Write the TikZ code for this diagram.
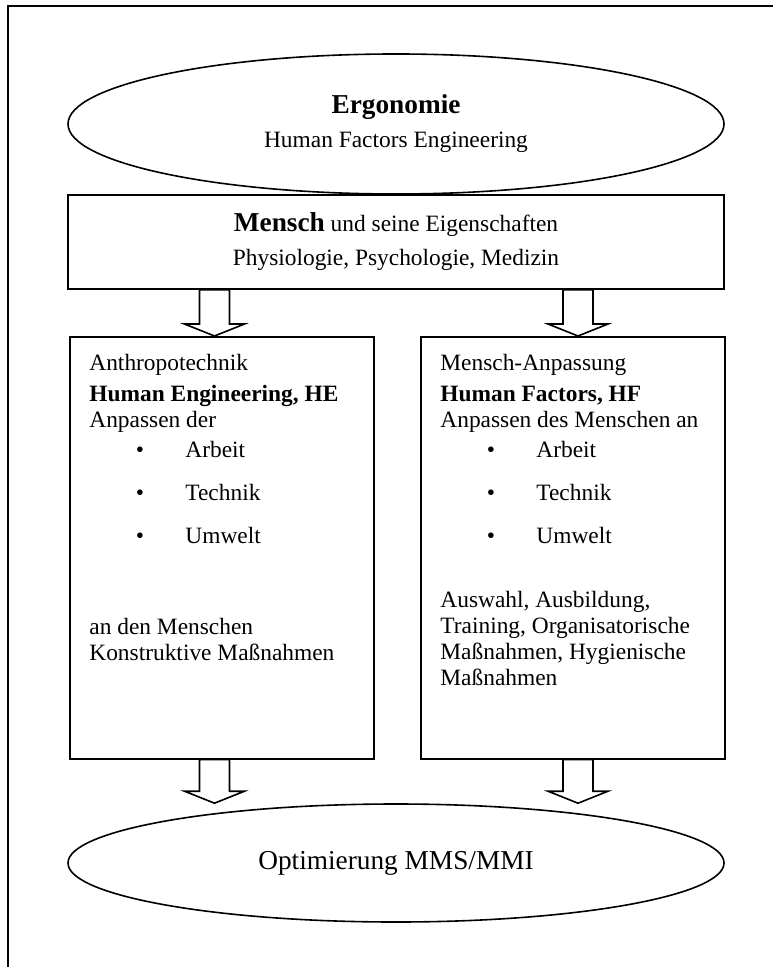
\documentclass[tikz,border=0pt]{standalone}
\usepackage{fontspec}
\setmainfont{Liberation Serif}
\usetikzlibrary{shapes.geometric,calc}

\newcommand\bodysize{\fontsize{11.7}{17}\selectfont}
\newcommand\bigsize{\fontsize{13.65}{17}\selectfont}

% hollow block arrow pointing down from #1 to #2
\newcommand\hollowarrow[2]{%
  \draw[blockarrow] let \p1=(#1), \p2=(#2) in
    (\x1-7.5pt,\y1) -- (\x1+7.5pt,\y1) -- (\x1+7.5pt,\y2+6pt) -- (\x1+15pt,\y2+6pt)
    -- (\x2,\y2) -- (\x1-15pt,\y2+6pt) -- (\x1-7.5pt,\y2+6pt) -- cycle;}

\begin{document}
\begin{tikzpicture}[x=0.5pt,y=-0.5pt,
  frame/.style={line width=0.8pt},
  outline/.style={draw, line width=0.8pt},
  oval/.style={outline, ellipse, inner sep=0pt, align=center},
  panel/.style={outline, rectangle, inner sep=0pt, anchor=north west,
                minimum width=152pt, minimum height=211pt},
  txt/.style={anchor=base west, inner sep=0pt, font=\bodysize},
  bul/.style={anchor=base, inner sep=0pt, font=\bodysize},
  blockarrow/.style={draw, line width=0.8pt, fill=white, line join=miter},
]
\useasboundingbox (0,0) rectangle (773,967);

% page frame
\draw[frame] (8,967) -- (8,6) -- (773,6);

% header box and title oval
\node[outline, minimum width=328pt, minimum height=47pt, align=center,
      font=\bodysize] (mensch) at (396,242)
  {{\bigsize\bfseries Mensch} und seine Eigenschaften\\Physiologie, Psychologie, Medizin};
\node[oval, minimum width=328pt, minimum height=70pt, font=\bodysize] (ergo) at (396,124)
  {{\bigsize\bfseries Ergonomie}\\Human Factors Engineering};

% the two panels
\node[panel] (he) at (69,336) {};
\node[panel] (hf) at (420,336) {};

% result oval
\node[oval, minimum width=328pt, minimum height=59pt, font=\bigsize] (opt) at (396,863)
  {Optimierung MMS/MMI};

% column positions of the arrows
\coordinate (colL) at (214.5,0);
\coordinate (colR) at (578,0);

\hollowarrow{mensch.south -| colL}{he.north -| colL}
\hollowarrow{mensch.south -| colR}{hf.north -| colR}
\hollowarrow{he.south -| colL}{opt.north -| colL}
\hollowarrow{hf.south -| colR}{opt.north -| colR}

% left panel text
\node[txt] (heA) at (89,371) {Anthropotechnik};
\node[txt, font=\bodysize\bfseries] (heB) at (89,401) {Human Engineering, HE};
\node[txt] (heC) at (89,427) {Anpassen der};
\node[bul] (heD1) at (140,457) {\textbullet};
\node[txt] (heD2) at (185,457) {Arbeit};
\node[bul] (heE1) at (140,500) {\textbullet};
\node[txt] (heE2) at (185,500) {Technik};
\node[bul] (heF1) at (140,543) {\textbullet};
\node[txt] (heF2) at (185,543) {Umwelt};
\node[txt] (heG) at (89,634) {an den Menschen};
\node[txt] (heH) at (89,660) {Konstruktive Maßnahmen};

% right panel text
\node[txt] (hfA) at (440,371) {Mensch-Anpassung};
\node[txt, font=\bodysize\bfseries] (hfB) at (440,401) {Human Factors, HF};
\node[txt] (hfC) at (440,427) {Anpassen des Menschen an};
\node[bul] (hfD1) at (491,457) {\textbullet};
\node[txt] (hfD2) at (536,457) {Arbeit};
\node[bul] (hfE1) at (491,500) {\textbullet};
\node[txt] (hfE2) at (536,500) {Technik};
\node[bul] (hfF1) at (491,543) {\textbullet};
\node[txt] (hfF2) at (536,543) {Umwelt};
\node[txt] (hfG) at (440,607) {Auswahl, Ausbildung,};
\node[txt] (hfH) at (440,633) {Training, Organisatorische};
\node[txt] (hfI) at (440,659) {Maßnahmen, Hygienische};
\node[txt] (hfJ) at (440,685) {Maßnahmen};
\end{tikzpicture}
\end{document}
